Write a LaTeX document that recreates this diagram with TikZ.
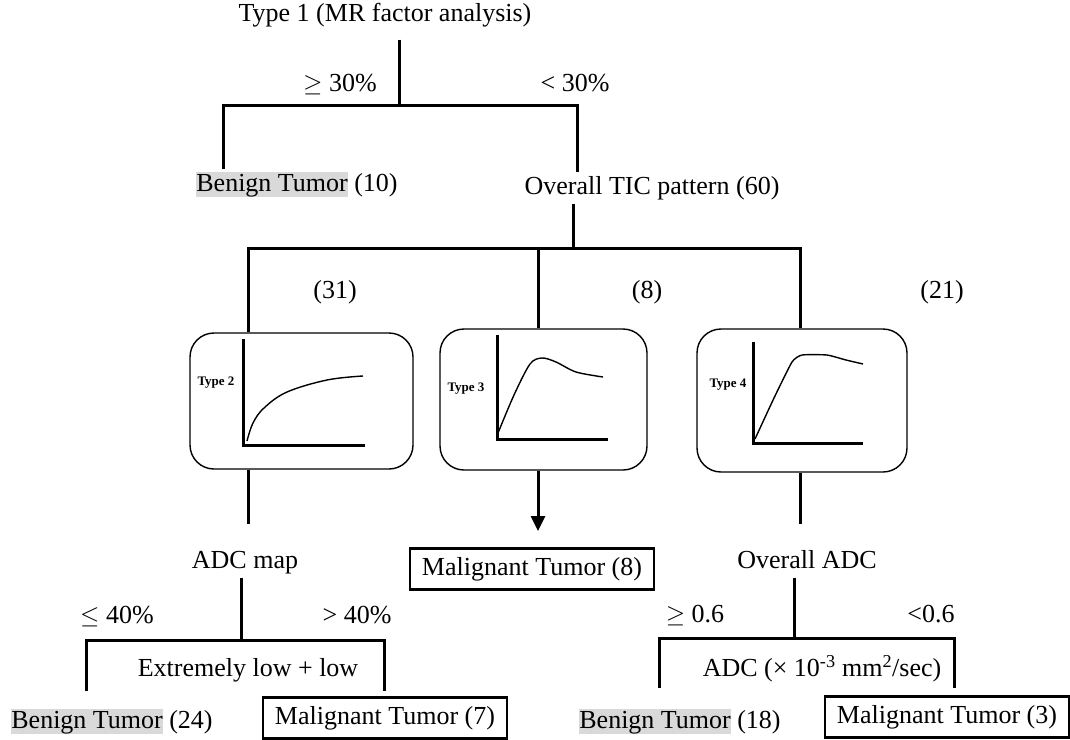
\documentclass[tikz,border=0pt]{standalone}
\usepackage{fontspec}
\setmainfont{Liberation Serif}
\usepackage{tikz}
\usetikzlibrary{arrows.meta}

\definecolor{hlgray}{RGB}{217,217,217}
\newcommand{\greybg}[1]{{\fboxsep=0pt\colorbox{hlgray}{\rule[-5pt]{0pt}{25pt}#1}}}

\tikzset{
	lbl/.style={inner xsep=0pt, inner ysep=3pt, text height=19pt, text depth=6pt, font=\fontsize{26}{30}\selectfont},
	leaf/.style={lbl, draw, line width=2.6pt, inner xsep=12pt, inner ysep=8pt},
	ticbox/.style={draw, line width=1.4pt, rounded corners=24pt},
	typ/.style={inner sep=0pt, font=\fontsize{13}{14}\selectfont\bfseries},
	bar/.style={line width=3pt},
	axis/.style={line width=3pt},
	curve/.style={line width=1.4pt}
}

\begin{document}
\begin{tikzpicture}
	[x=1pt, y=-1pt, line cap=butt]
	\useasboundingbox (0,0) rectangle (1070,739);

	\node[lbl, inner ysep=12pt] (root) at (385,15) {Type 1 (MR factor analysis)};
	\node[lbl] (ge30) at (340,85) {$\geq$ 30\%};
	\node[lbl] (lt30) at (575,85) {< 30\%};
	\node[lbl] (ben10) at (297,185) {\greybg{Benign Tumor} (10)};
	\node[lbl] (tic) at (652,188) {Overall TIC pattern (60)};

	\node[lbl] (n31) at (335,292) {(31)};
	\node[lbl] (n8) at (647,292) {(8)};
	\node[lbl] (n21) at (942,292) {(21)};

	\node[ticbox, minimum width=223pt, minimum height=136pt] (box2) at (301.5,401) {};
	\node[ticbox, minimum width=207pt, minimum height=141pt] (box3) at (543.5,399.5) {};
	\node[ticbox, minimum width=210pt, minimum height=143pt] (box4) at (802,400.5) {};

	\node[typ] (t2) at (216,383) {Type 2};
	\draw[axis] (243,339) -- (243,445) -- (365,445);
	\draw[curve] plot[smooth, tension=0.6] coordinates {(247,441) (253,423) (264,408) (287,392) (327,380) (363,376)};

	\node[typ] (t3) at (466,389) {Type 3};
	\draw[axis] (497,335) -- (497,439) -- (608,439);
	\draw[curve] plot[smooth, tension=0.5] coordinates {(498,433) (514,395) (530,364) (542,358) (556,362) (576,372) (603,377)};

	\node[typ] (t4) at (728,385) {Type 4};
	\draw[axis] (753,342) -- (753,443) -- (863,443);
	\draw[curve] plot[smooth, tension=0.3] coordinates {(755,439) (774,398) (792,362) (802,355) (827,355) (846,360) (863,364)};

	\node[leaf] (mal8) at (532,569) {Malignant Tumor (8)};
	\node[lbl] (adcmap) at (245,562) {ADC map};
	\node[lbl] (ovadc) at (807,562) {Overall ADC};

	\node[lbl] (le40) at (117,617) {$\leq$ 40\%};
	\node[lbl] (gt40) at (357,617) {> 40\%};
	\node[lbl] (extlow) at (248,670) {Extremely low + low};
	\node[lbl] (ben24) at (112,722) {\greybg{Benign Tumor} (24)};
	\node[leaf] (mal7) at (385,718) {Malignant Tumor (7)};

	\node[lbl] (ge06) at (695,616) {$\geq$ 0.6};
	\node[lbl] (lt06) at (931,616) {<0.6};
	\node[lbl] (adcunit) at (822,670) {ADC (× 10\textsuperscript{-3} mm\textsuperscript{2}/sec)};
	\node[lbl] (ben18) at (680,722) {\greybg{Benign Tumor} (18)};
	\node[leaf] (mal3) at (947,717) {Malignant Tumor (3)};

	\coordinate (s1) at (399,105);
	\coordinate (s1l) at (223,105);
	\coordinate (s1r) at (577,105);
	\coordinate (s2) at (573,248);
	\coordinate (s2l) at (248,248);
	\coordinate (s2m) at (538,248);
	\coordinate (s2r) at (800,248);
	\coordinate (e2) at (248,524);
	\coordinate (e4) at (800,524);
	\coordinate (a3) at (538,531);
	\coordinate (s3) at (241,640);
	\coordinate (s3l) at (86,640);
	\coordinate (s3r) at (384,640);
	\coordinate (d3l) at (86,691);
	\coordinate (d3r) at (384,691);
	\coordinate (s4) at (794,638);
	\coordinate (s4l) at (659,638);
	\coordinate (s4r) at (954,638);
	\coordinate (d4l) at (659,688);
	\coordinate (d4r) at (954,688);

	\draw[bar] (root.south -| s1) -- (s1);
	\draw[bar] (ben10.north -| s1l) -- (s1l) -- (s1r) -- (tic.north -| s1r);
	\draw[bar] (tic.south -| s2) -- (s2);
	\draw[bar] (box2.north -| s2l) -- (s2l) -- (s2r) -- (box4.north -| s2r);
	\draw[bar] (s2m) -- (box3.north -| s2m);
	\draw[bar] (box2.south -| s2l) -- (e2);
	\draw[bar] (box4.south -| s2r) -- (e4);
	\draw[bar, -{Triangle[length=15pt, width=14pt]}] (box3.south -| s2m) -- (a3);
	\draw[bar] (adcmap.south -| s3) -- (s3);
	\draw[bar] (d3l) -- (s3l) -- (s3r) -- (d3r);
	\draw[bar] (ovadc.south -| s4) -- (s4);
	\draw[bar] (d4l) -- (s4l) -- (s4r) -- (d4r);
\end{tikzpicture}
\end{document}
